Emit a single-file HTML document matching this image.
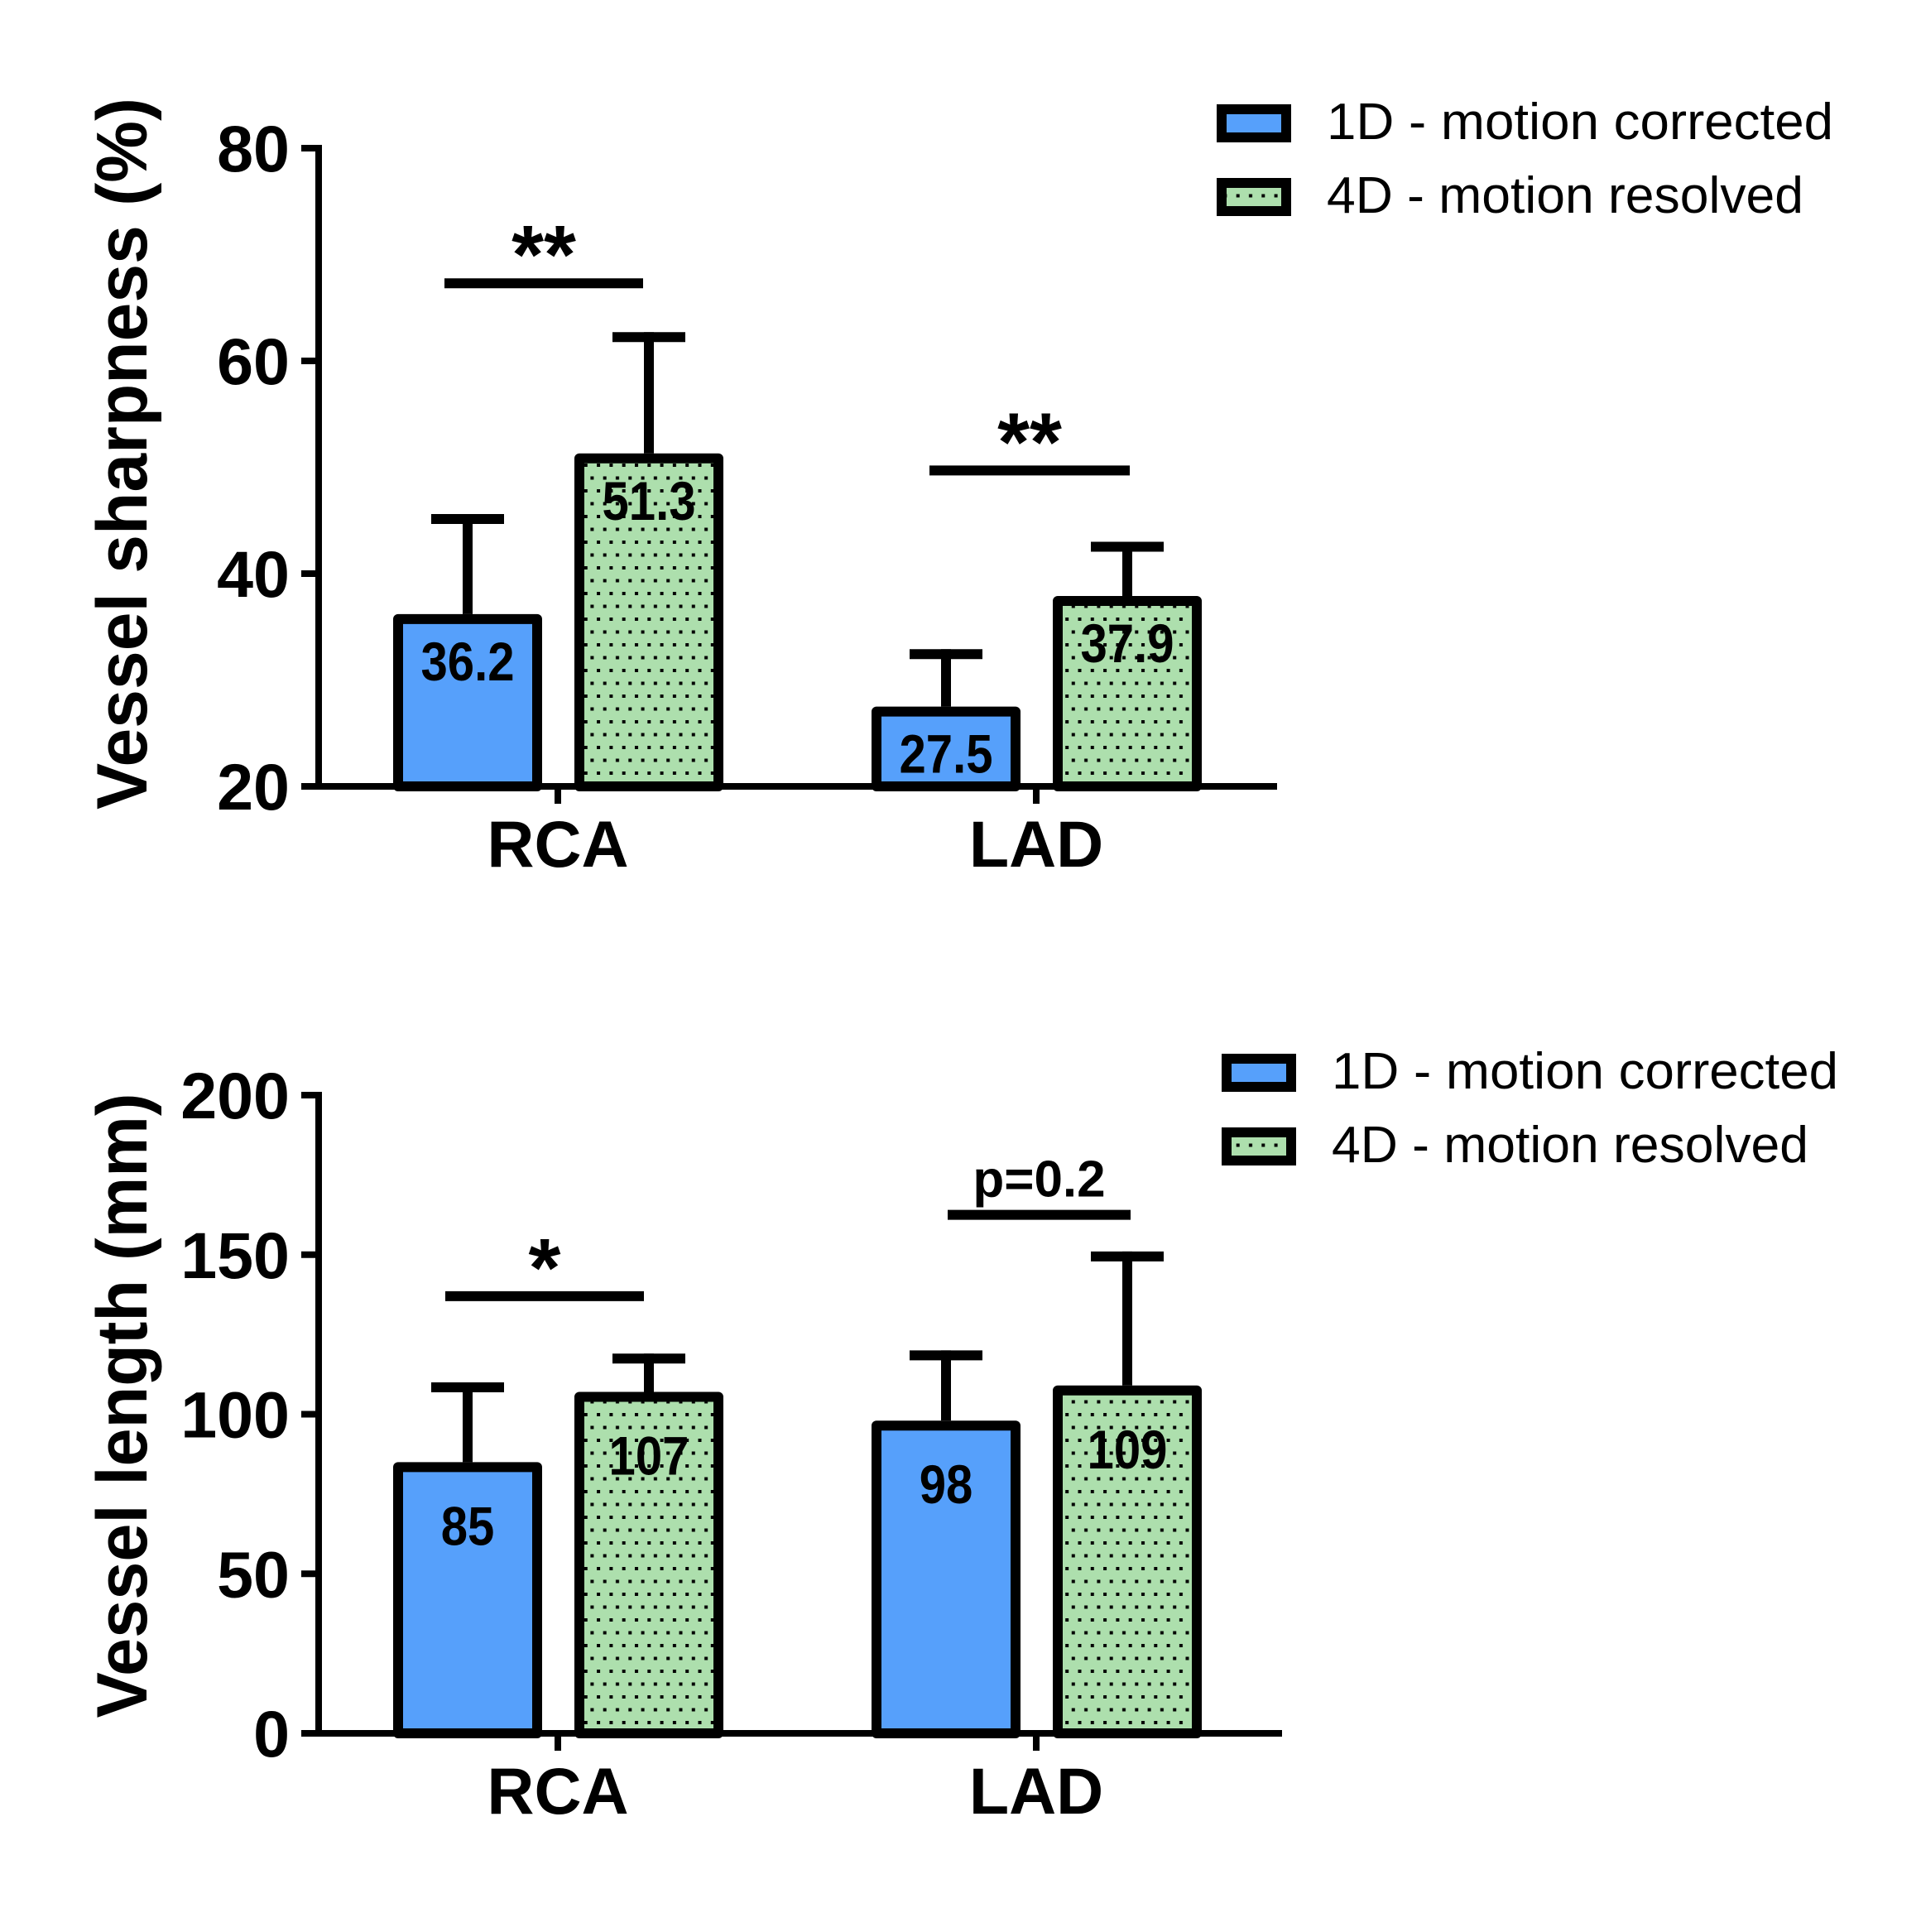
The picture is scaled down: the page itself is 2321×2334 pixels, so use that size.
<!DOCTYPE html>
<html><head><meta charset="utf-8"><style>
html,body{margin:0;padding:0;background:#fff;}
svg{display:block;font-family:"Liberation Sans",Arial,sans-serif;}
</style></head><body>
<svg id="svg" width="2321" height="2334" viewBox="0 0 2321 2334" xmlns="http://www.w3.org/2000/svg">
<defs>
<pattern id="dots" patternUnits="userSpaceOnUse" width="15.3" height="31">
<rect width="15.3" height="31" fill="#addfad"/>
<rect x="2" y="2" width="4" height="4" fill="#000"/>
<rect x="9.6" y="17.5" width="4" height="4" fill="#000"/>
</pattern>
</defs>
<g id="top"></g>
<g id="bot"></g>
</svg>
<script>
const categories = ["RCA", "LAD"];
const seriesNames = ["1D - motion corrected", "4D - motion resolved"];
const sharpMeans = [[36.2, 27.5], [51.3, 37.9]];
const sharpErr = [[45.6, 32.9], [62.7, 43.0]];
const sharpLabels = [["36.2", "27.5"], ["51.3", "37.9"]];
const sharpTicks = [20, 40, 60, 80];
const sharpSig = [67.3, 49.7];
const sharpSigText = ["**", "**"];
const lenMeans = [[85, 98], [107, 109]];
const lenErr = [[110, 120], [119, 151]];
const lenLabels = [["85", "98"], ["107", "109"]];
const lenTicks = [0, 50, 100, 150, 200];
const lenSig = [137, 162.5];
const lenSigText = ["*", "p=0.2"];

const NS = "http://www.w3.org/2000/svg";
function mk(parent, tag, attrs, text) {
  const e = document.createElementNS(NS, tag);
  for (const k in attrs) e.setAttribute(k, attrs[k]);
  if (text !== undefined) e.textContent = text;
  parent.appendChild(e);
  return e;
}

function chart(g, o) {
  const y = v => o.y0 + (v - o.vmin) / (o.vmax - o.vmin) * (o.y1 - o.y0);
  const axisX = 385;
  const groupCenters = [674, 1252];
  const barW = 180;
  const offsets = [-109, 110];
  const t = mk(g, "text", {x: 0, y: 0, transform: `translate(${o.titleX},${o.titleY}) rotate(-90)`, "text-anchor": "middle", "font-size": 86, "font-weight": "bold", textLength: o.titleLen, lengthAdjust: "spacingAndGlyphs"}, o.title);
  
  
  o.ticks.forEach(v => {
    const tl = mk(g, "line", {x1: 364, x2: axisX, y1: y(v), y2: y(v), stroke: "#000", "stroke-width": 8});
    
    
    const tx = mk(g, "text", {x: 350, y: y(v) + 28, "text-anchor": "end", "font-size": 79, "font-weight": "bold"}, String(v));
    
    
  });
  categories.forEach((c, ci) => {
    [0, 1].forEach(si => {
      const cx = groupCenters[ci] + offsets[si];
      const top = y(o.means[si][ci]);
      const et = y(o.err[si][ci]);
      const el = mk(g, "line", {x1: cx, x2: cx, y1: top, y2: et, stroke: "#000", "stroke-width": 12});
      
      
      const ec = mk(g, "line", {x1: cx - 44, x2: cx + 44, y1: et + 6, y2: et + 6, stroke: "#000", "stroke-width": 12});
      
      
      const r = mk(g, "rect", {x: cx - barW / 2 + 6, y: top + 6, width: barW - 12, height: o.y0 - top - 6, fill: si ? "url(#dots)" : "#56a0fb", stroke: "#000", "stroke-width": 12, "stroke-linejoin": "round"});
      
      
      const lb = mk(g, "text", {x: cx, y: top + o.labOff, "text-anchor": "middle", "font-size": 66, "font-weight": "bold", transform: `translate(${cx},0) scale(0.88,1) translate(${-cx},0)`}, o.labels[si][ci]);
      
      
    });
    const sy = y(o.sig[ci]);
    const sl = mk(g, "line", {x1: groupCenters[ci] + o.sigX[ci][0], x2: groupCenters[ci] + o.sigX[ci][1], y1: sy, y2: sy, stroke: "#000", "stroke-width": 12});
    
    
    const star = o.sigText[ci].indexOf("*") >= 0;
    const st = mk(g, "text", {x: groupCenters[ci] + (o.sigX[ci][0] + o.sigX[ci][1]) / 2, y: sy - (star ? 0 : 22), "text-anchor": "middle", "font-size": star ? 100 : 62, "font-weight": "bold"}, o.sigText[ci]);
    
    
    const ct = mk(g, "line", {x1: groupCenters[ci], x2: groupCenters[ci], y1: o.y0, y2: o.y0 + 21, stroke: "#000", "stroke-width": 8});
    
    
    const cl = mk(g, "text", {x: groupCenters[ci], y: o.y0 + 97, "text-anchor": "middle", "font-size": 79, "font-weight": "bold"}, c);
    
    
  });
  const ya = mk(g, "line", {x1: axisX, x2: axisX, y1: o.y1 - 4, y2: o.y0 + 4, stroke: "#000", "stroke-width": 8});
  
  
  const xa = mk(g, "line", {x1: axisX, x2: o.xEnd, y1: o.y0, y2: o.y0, stroke: "#000", "stroke-width": 8});
  
  
  seriesNames.forEach((n, si) => {
    const ly = o.legY + si * 89;
    const lr = mk(g, "rect", {x: o.legX + 6, y: ly + 6, width: 78, height: 34, fill: si ? "url(#dots)" : "#56a0fb", stroke: "#000", "stroke-width": 12});
    
    
    const lt = mk(g, "text", {x: o.legX + 133, y: ly + 42, "font-size": 62, textLength: si ? 576 : 612, lengthAdjust: "spacingAndGlyphs"}, n);
    
    
  });
}

chart(document.getElementById("top"), {
  vmin: 20, vmax: 80, y0: 950, y1: 179, xEnd: 1543,
  means: sharpMeans, err: sharpErr, labels: sharpLabels, ticks: sharpTicks,
  sig: sharpSig, sigText: sharpSigText, sigX: [[-137, 103], [-129, 113]],
  labOff: 80, title: "Vessel  sharpness (%)", titleX: 177, titleY: 548, titleLen: 860,
  legX: 1470, legY: 126
});
chart(document.getElementById("bot"), {
  vmin: 0, vmax: 200, y0: 2094, y1: 1323, xEnd: 1549,
  means: lenMeans, err: lenErr, labels: lenLabels, ticks: lenTicks,
  sig: lenSig, sigText: lenSigText, sigX: [[-136, 104], [-107, 114]],
  labOff: 100, title: "Vessel length (mm)", titleX: 177, titleY: 1698, titleLen: 755,
  legX: 1476, legY: 1273
});
</script>
</body></html>
